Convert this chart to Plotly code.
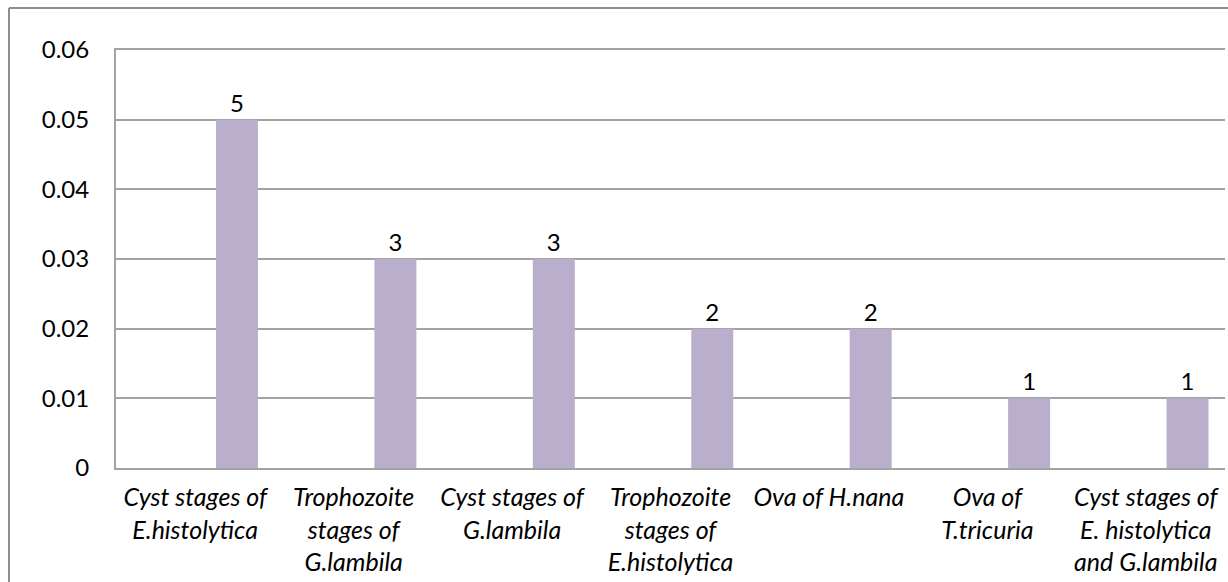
import plotly.graph_objects as go

# Parasite stages found in the samples
categories = [
    "Cyst stages of<br>E.histolytica",
    "Trophozoite<br>stages of<br>G.lambila",
    "Cyst stages of<br>G.lambila",
    "Trophozoite<br>stages of<br>E.histolytica",
    "Ova of H.nana",
    "Ova of<br>T.tricuria",
    "Cyst stages of<br>E. histolytica<br>and G.lambila",
]
counts = [5, 3, 3, 2, 2, 1, 1]          # number of positive samples (bar labels)
proportions = [c / 100 for c in counts]  # plotted as a fraction

y_ticks = [0, 0.01, 0.02, 0.03, 0.04, 0.05, 0.06]
y_tick_labels = ["0", "0.01", "0.02", "0.03", "0.04", "0.05", "0.06"]

FONT = "Lato"
BAR_COLOR = "#B9AFCC"
GRID_COLOR = "#A3A3A3"
BORDER_COLOR = "#8E8E8E"

positions = list(range(len(categories)))

fig = go.Figure(
    go.Bar(
        x=positions,
        y=proportions,
        width=0.265,
        offset=0.131,
        marker=dict(color=BAR_COLOR, line=dict(width=0)),
        text=[str(c) for c in counts],
        textposition="outside",
        textfont=dict(family=FONT, size=24, color="#000000"),
        cliponaxis=False,
        hoverinfo="skip",
    )
)

fig.update_layout(
    width=1228,
    height=582,
    margin=dict(l=116, r=3, t=50, b=114),
    paper_bgcolor="white",
    plot_bgcolor="white",
    showlegend=False,
    font=dict(family=FONT, color="#000000"),
)

fig.update_xaxes(
    range=[-0.5, len(categories) - 0.5],
    tickmode="array",
    tickvals=positions,
    ticktext=[f"<i>{c}</i>" for c in categories],
    tickfont=dict(family=FONT, size=25, color="#000000"),
    ticks="",
    showgrid=False,
    zeroline=False,
    showline=True,
    mirror=True,
    linecolor=GRID_COLOR,
    linewidth=2,
    ticklabelstandoff=6,
)

fig.update_yaxes(
    range=[0, 0.06],
    tickmode="array",
    tickvals=y_ticks,
    ticktext=y_tick_labels,
    tickfont=dict(family=FONT, size=24, color="#000000"),
    ticks="",
    showgrid=True,
    gridcolor=GRID_COLOR,
    gridwidth=2,
    zeroline=False,
    showline=True,
    linecolor=GRID_COLOR,
    linewidth=2,
    ticklabelstandoff=20,
)

# Chart-area frame (left and top edges)
plot_w = 1228 - 116 - 3
plot_h = 582 - 50 - 114
fx = (9 - 116) / plot_w
fy = 1 + (50 - 8) / plot_h
fig.add_shape(type="line", xref="paper", yref="paper", x0=fx, x1=fx, y0=fy, y1=-0.4,
              line=dict(color=BORDER_COLOR, width=2))
fig.add_shape(type="line", xref="paper", yref="paper", x0=fx, x1=1.1, y0=fy, y1=fy,
              line=dict(color=BORDER_COLOR, width=2))

fig.write_html("out.html")
